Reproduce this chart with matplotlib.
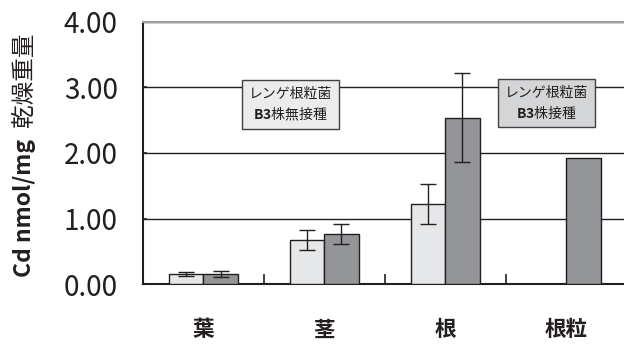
import numpy as np
import matplotlib.pyplot as plt

plt.rcParams['font.family'] = ['Noto Sans CJK JP', 'DejaVu Sans']
plt.rcParams['mathtext.fontset'] = 'custom'
plt.rcParams['mathtext.bf'] = 'Noto Sans CJK JP:bold'

# data
categories = ['葉', '茎', '根', '根粒']
uninoculated = [0.15, 0.67, 1.22, np.nan]      # レンゲ根粒菌 B3株無接種
uninoc_err = [0.03, 0.15, 0.31, np.nan]
inoculated = [0.15, 0.76, 2.54, 1.93]          # レンゲ根粒菌 B3株接種
inoc_err = [0.045, 0.15, 0.68, 0]
yticks = [0.0, 1.0, 2.0, 3.0, 4.0]

light = '#e6e7e8'
dark = '#939598'
edge = '#231f20'

fig = plt.figure(figsize=(6.24, 3.44), dpi=100)
ax = fig.add_axes([0.229, 0.1744, 0.775, 0.7617])

x = np.arange(len(categories))
w = 0.285
ekw = dict(elinewidth=1.0, capthick=1.0, ecolor=edge)
ax.bar(x - w / 2, uninoculated, w, color=light, edgecolor=edge, linewidth=1.0,
       yerr=uninoc_err, capsize=6, error_kw=ekw, zorder=3)
ax.bar(x + w / 2, inoculated, w, color=dark, edgecolor=edge, linewidth=1.0,
       yerr=[np.nan if e == 0 else e for e in inoc_err], capsize=6, error_kw=ekw, zorder=3)

ax.set_xlim(-0.5, 3.5)
ax.set_ylim(0, 4)
ax.set_yticks(yticks)
ax.set_yticklabels([f'{v:.2f}' for v in yticks], fontsize=20, color='#231f20')
ax.yaxis.grid(True, color=edge, linewidth=1.0, zorder=0)
ax.set_axisbelow(True)

# category separators on the x axis
ax.set_xticks([0.5, 1.5, 2.5])
ax.set_xticklabels([])
ax.tick_params(axis='x', direction='in', length=7, width=1.2, color=edge)
ax.tick_params(axis='y', direction='in', length=3, width=1.2, color=edge, pad=18)
for i, c in enumerate(categories):
    ax.text(i, -0.7, c, ha='center', va='center', fontsize=15.5,
            fontweight='bold', color=edge, clip_on=False)

ax.spines['right'].set_visible(False)
ax.spines['top'].set_color('#a0a0a0')
ax.spines['top'].set_linewidth(1.5)
ax.spines['left'].set_color(edge)
ax.spines['left'].set_linewidth(1.5)
ax.spines['bottom'].set_color(edge)
ax.spines['bottom'].set_linewidth(1.5)

# y label: bold latin part, regular CJK part
fig.text(0.04, 0.195, 'Cd nmol/mg', rotation=90, fontsize=16.5, fontweight='bold',
         ha='center', va='bottom', color=edge)
fig.text(0.04, 0.632, '乾燥重量', rotation=90, fontsize=17,
         ha='center', va='bottom', color=edge)

# series labels
box = dict(boxstyle='square,pad=0.5', edgecolor='#414042', linewidth=1.0)
ax.text(0.72, 2.74, 'レンゲ根粒菌\n' + r'$\mathbf{B3}$' + '株無接種', ha='center', va='center',
        fontsize=10, linespacing=1.35, color=edge,
        bbox=dict(box, facecolor='#ececed'), zorder=5)
ax.text(2.84, 2.76, 'レンゲ根粒菌\n' + r'$\mathbf{B3}$' + '株接種', ha='center', va='center',
        fontsize=10, linespacing=1.35, color=edge,
        bbox=dict(box, facecolor='#d4d5d6'), zorder=5)

fig.savefig('out.png', dpi=100)
